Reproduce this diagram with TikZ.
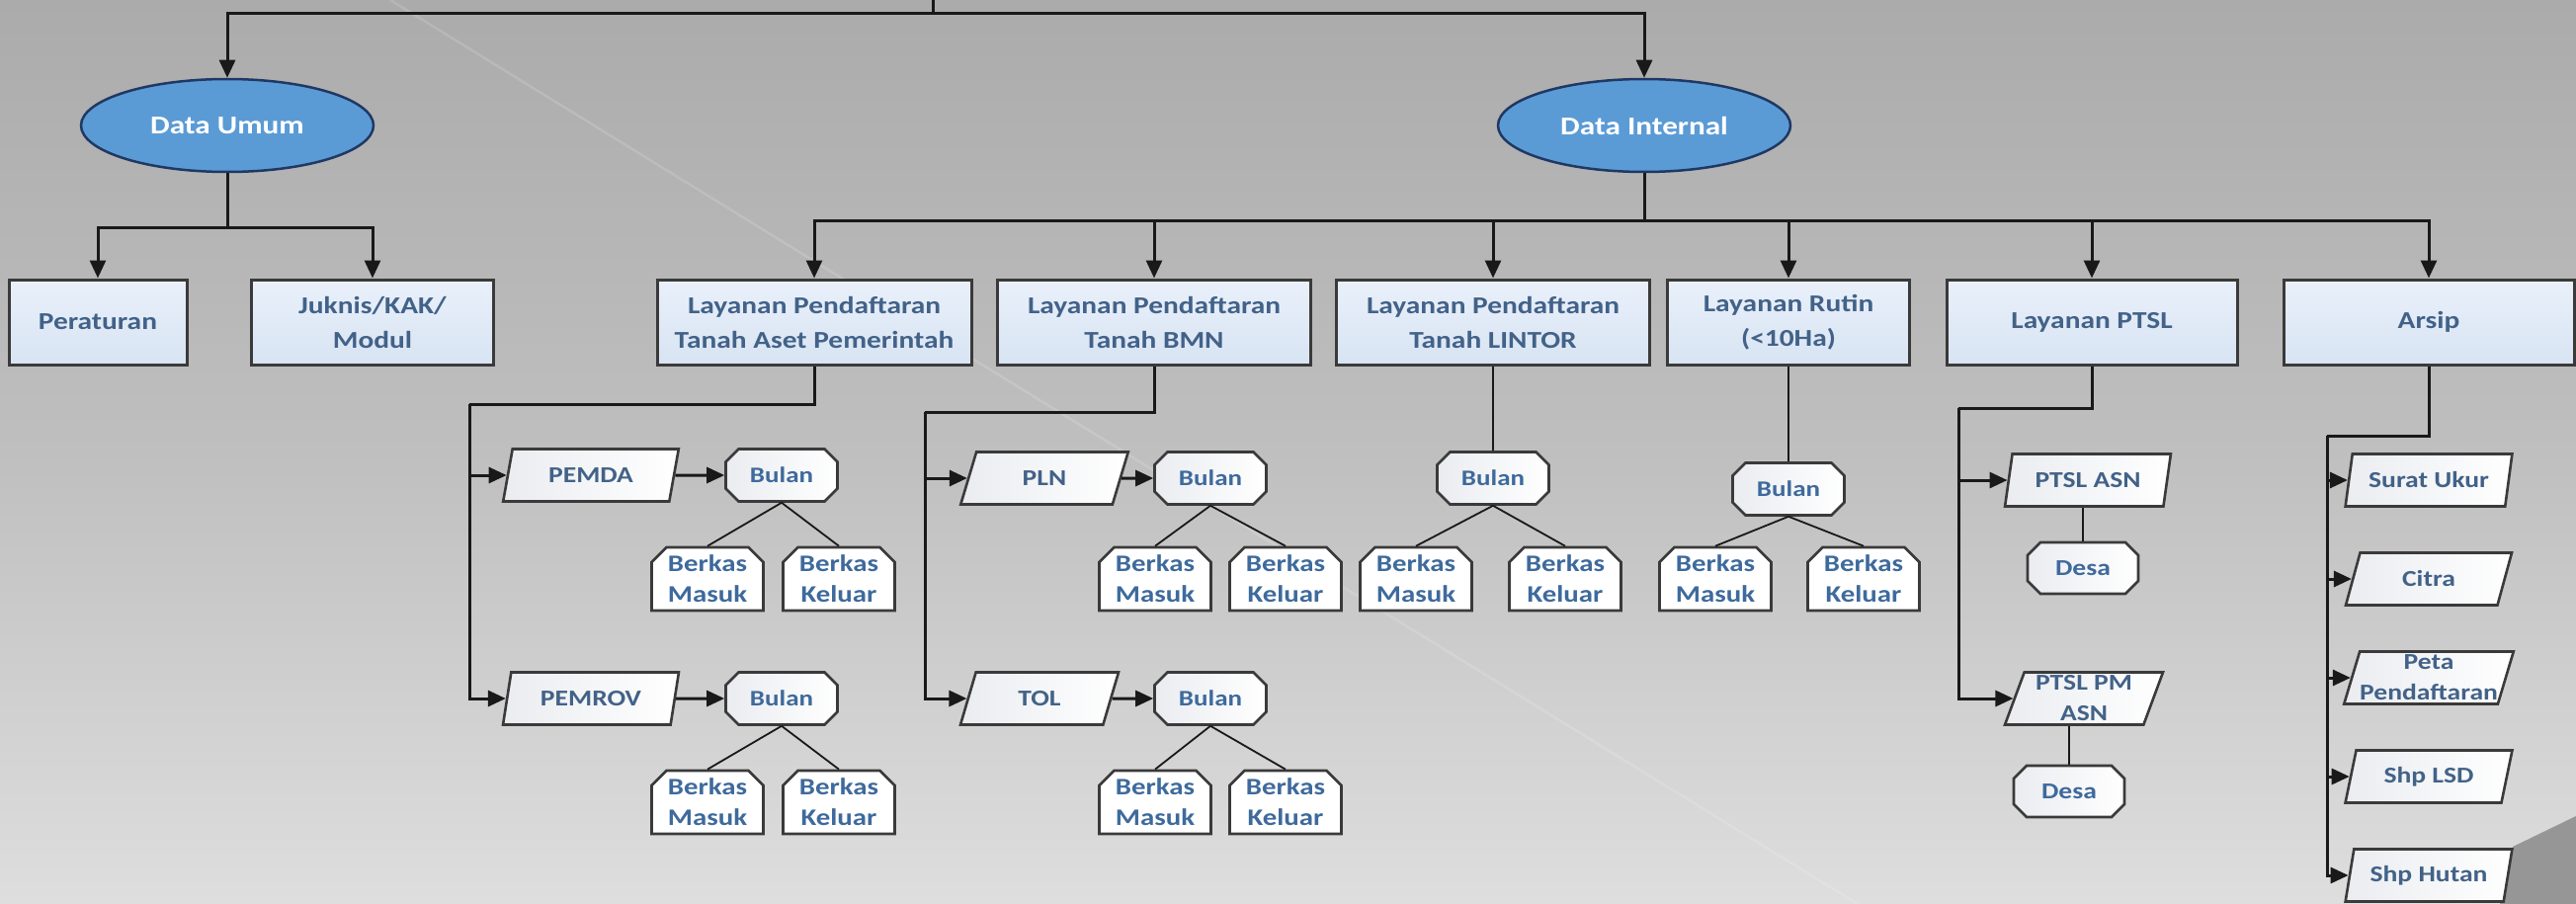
\documentclass[tikz,border=0pt]{standalone}
\usepackage{fontspec}
\setmainfont{Carlito}[FakeStretch=1.2]
\usetikzlibrary{arrows.meta,shapes.geometric,shapes.misc}

\definecolor{bgtop}{RGB}{171,171,171}
\definecolor{bgmid}{RGB}{191,191,191}
\definecolor{bgbot}{RGB}{222,222,222}
\definecolor{corner}{RGB}{150,150,150}
\definecolor{linec}{RGB}{25,25,25}
\definecolor{edgec}{RGB}{58,58,58}
\definecolor{boxtop}{RGB}{233,240,250}
\definecolor{boxbot}{RGB}{216,228,243}
\definecolor{boxtext}{RGB}{66,98,136}
\definecolor{smalltext}{RGB}{62,106,156}
\definecolor{ellfill}{RGB}{91,155,213}
\definecolor{elledge}{RGB}{31,56,100}
\definecolor{paleleft}{RGB}{234,236,240}

\begin{document}
\begin{tikzpicture}[x=1pt,y=-1pt,
  conn/.style={draw=linec,line width=3pt},
  arr/.style={conn,-{Triangle[length=18pt,width=16pt]}},
  thinl/.style={draw=linec,line width=1.8pt},
  oval/.style={ellipse,draw=elledge,line width=2.5pt,fill=ellfill,
    minimum width=296pt,minimum height=94pt,inner sep=0pt,
    text=white,font=\fontsize{26}{32}\selectfont\bfseries},
  mainbox/.style={rectangle,draw=edgec,line width=3pt,top color=boxtop,bottom color=boxbot,
    minimum height=86pt,inner sep=0pt,align=center,text=boxtext,
    font=\fontsize{24.5}{35}\selectfont\bfseries},
  para/.style={trapezium,trapezium left angle=71,trapezium right angle=109,
    trapezium stretches=true,draw=edgec,line width=2.6pt,left color=paleleft,right color=white,
    minimum height=53pt,inner sep=0pt,align=center,text=boxtext,
    font=\fontsize{23}{31}\selectfont\bfseries},
  octo/.style={chamfered rectangle,chamfered rectangle xsep=6pt,chamfered rectangle ysep=7pt,
    draw=edgec,line width=2.6pt,left color=paleleft,right color=white,
    minimum width=113pt,minimum height=53pt,inner sep=0pt,align=center,text=smalltext,
    font=\fontsize{22.5}{30}\selectfont\bfseries},
  tab/.style={chamfered rectangle,chamfered rectangle corners={north west,north east},
    chamfered rectangle xsep=7pt,chamfered rectangle ysep=8pt,
    draw=edgec,line width=2.6pt,fill=white,
    minimum width=113pt,minimum height=54pt,inner sep=0pt,align=center,text=smalltext,
    font=\fontsize{24}{31}\selectfont\bfseries}
]
% backdrop
\useasboundingbox (0,0) rectangle (2607,915);
\shade[top color=bgtop,bottom color=bgbot,middle color=bgmid] (0,0) rectangle (2607,915);
\draw[white,opacity=0.14,line width=2.5pt] (395,0) -- (1880,915);
\fill[corner] (2530,915) -- (2543,857) -- (2607,826) -- (2607,915) -- cycle;

% top level
\coordinate (root) at (944,0);
\coordinate (rootj) at (944,14);
\node[oval] (du) at (230,127) {Data Umum};
\node[oval] (di) at (1664,127) {Data Internal};

% general data
\node[mainbox,minimum width=180pt] (perat) at (99,326) {Peraturan};
\node[mainbox,minimum width=245pt] (juk) at (377,326) {Juknis/KAK/\\Modul};

% internal data
\node[mainbox,minimum width=318pt] (aset) at (824,326) {Layanan Pendaftaran\\Tanah Aset Pemerintah};
\node[mainbox,minimum width=317pt] (bmn) at (1168,326) {Layanan Pendaftaran\\Tanah BMN};
\node[mainbox,minimum width=317pt] (lintor) at (1511,326) {Layanan Pendaftaran\\Tanah LINTOR};
\node[mainbox,minimum width=245pt] (rutin) at (1810,326) {Layanan Rutin\\(<10Ha)};
\node[mainbox,minimum width=294pt] (ptsl) at (2117,326) {Layanan PTSL};
\node[mainbox,minimum width=294pt] (arsip) at (2458,326) {Arsip};

% government assets
\node[para,minimum width=178pt] (pemda) at (598,481) {PEMDA};
\node[para,minimum width=178pt] (pemrov) at (598,707) {PEMROV};
\node[octo] (bulA) at (791,481) {Bulan};
\node[octo] (bulB) at (791,707) {Bulan};
\node[tab] (bmA) at (716,586) {Berkas\\Masuk};
\node[tab] (bkA) at (849,586) {Berkas\\Keluar};
\node[tab] (bmB) at (716,812) {Berkas\\Masuk};
\node[tab] (bkB) at (849,812) {Berkas\\Keluar};

% BMN
\node[para,minimum width=170pt] (pln) at (1057,484) {PLN};
\node[para,minimum width=160pt] (tol) at (1052,707) {TOL};
\node[octo] (bulC) at (1225,484) {Bulan};
\node[octo] (bulD) at (1225,707) {Bulan};
\node[tab] (bmC) at (1169,586) {Berkas\\Masuk};
\node[tab] (bkC) at (1301,586) {Berkas\\Keluar};
\node[tab] (bmD) at (1169,812) {Berkas\\Masuk};
\node[tab] (bkD) at (1301,812) {Berkas\\Keluar};

% LINTOR
\node[octo] (bulE) at (1511,484) {Bulan};
\node[tab] (bmE) at (1433,586) {Berkas\\Masuk};
\node[tab] (bkE) at (1584,586) {Berkas\\Keluar};

% routine service
\node[octo] (bulF) at (1810,495) {Bulan};
\node[tab] (bmF) at (1736,586) {Berkas\\Masuk};
\node[tab] (bkF) at (1886,586) {Berkas\\Keluar};

% PTSL
\node[para,minimum width=168pt] (asn) at (2113,486) {PTSL ASN};
\node[para,minimum width=160pt] (pmasn) at (2109,707) {PTSL PM\\ASN};
\node[octo,minimum width=112pt,minimum height=52pt,font=\fontsize{23}{30}\selectfont\bfseries] (desaA) at (2108,575) {Desa};
\node[octo,minimum width=112pt,minimum height=52pt,font=\fontsize{23}{30}\selectfont\bfseries] (desaB) at (2094,801) {Desa};

% archive
\node[para,minimum width=169pt] (su) at (2458,486) {Surat Ukur};
\node[para,minimum width=169pt] (citra) at (2458,586) {Citra};
\node[para,minimum width=169pt] (peta) at (2458,686) {Peta\\Pendaftaran};
\node[para,minimum width=169pt] (lsd) at (2458,786) {Shp LSD};
\node[para,minimum width=169pt] (hutan) at (2458,886) {Shp Hutan};

% connectors: top level
\draw[conn] (root) -- (rootj);
\draw[arr] (rootj) -| (du.north);
\draw[arr] (rootj) -| (di.north);

\coordinate (duj) at (230,230);
\draw[conn] (du.south) -- (duj);
\draw[arr] (duj) -| (perat.north);
\draw[arr] (duj) -| (juk.north);

\coordinate (dij) at (1664,223);
\draw[conn] (di.south) -- (dij);
\foreach \n in {aset,bmn,lintor,rutin,ptsl,arsip}
  \draw[arr] (dij) -| (\n.north);

% government assets branch
\coordinate (asetj) at (475,409);
\draw[conn] (aset.south) |- (asetj);
\draw[arr] (asetj) |- (pemda.west);
\draw[arr] (asetj) |- (pemrov.west);
\draw[arr] (pemda.east) -- (bulA.west);
\draw[arr] (pemrov.east) -- (bulB.west);

% BMN branch
\coordinate (bmnj) at (936,417);
\draw[conn] (bmn.south) |- (bmnj);
\draw[arr] (bmnj) |- (pln.west);
\draw[arr] (bmnj) |- (tol.west);
\draw[arr] (pln.east) -- (bulC.west);
\draw[arr] (tol.east) -- (bulD.west);

% LINTOR and routine
\draw[thinl] (lintor.south) -- (bulE.north);
\draw[thinl] (rutin.south) -- (bulF.north);

% month to incoming / outgoing files
\foreach \b/\m/\k in {bulA/bmA/bkA,bulB/bmB/bkB,bulC/bmC/bkC,bulD/bmD/bkD,bulE/bmE/bkE,bulF/bmF/bkF}{
  \draw[thinl] (\b.south) -- (\m.north);
  \draw[thinl] (\b.south) -- (\k.north);
}

% PTSL branch
\coordinate (ptslj) at (1982,413);
\draw[conn] (ptsl.south) |- (ptslj);
\draw[arr] (ptslj) |- (asn.west);
\draw[arr] (ptslj) |- (pmasn.west);
\draw[thinl] (desaA.north) -- (desaA.north |- asn.south);
\draw[thinl] (desaB.north) -- (desaB.north |- pmasn.south);

% archive branch
\coordinate (arsipj) at (2355,441);
\draw[conn] (arsip.south) |- (arsipj);
\foreach \n in {su,citra,peta,lsd,hutan}
  \draw[arr] (arsipj) |- (\n.west);
\end{tikzpicture}
\end{document}
